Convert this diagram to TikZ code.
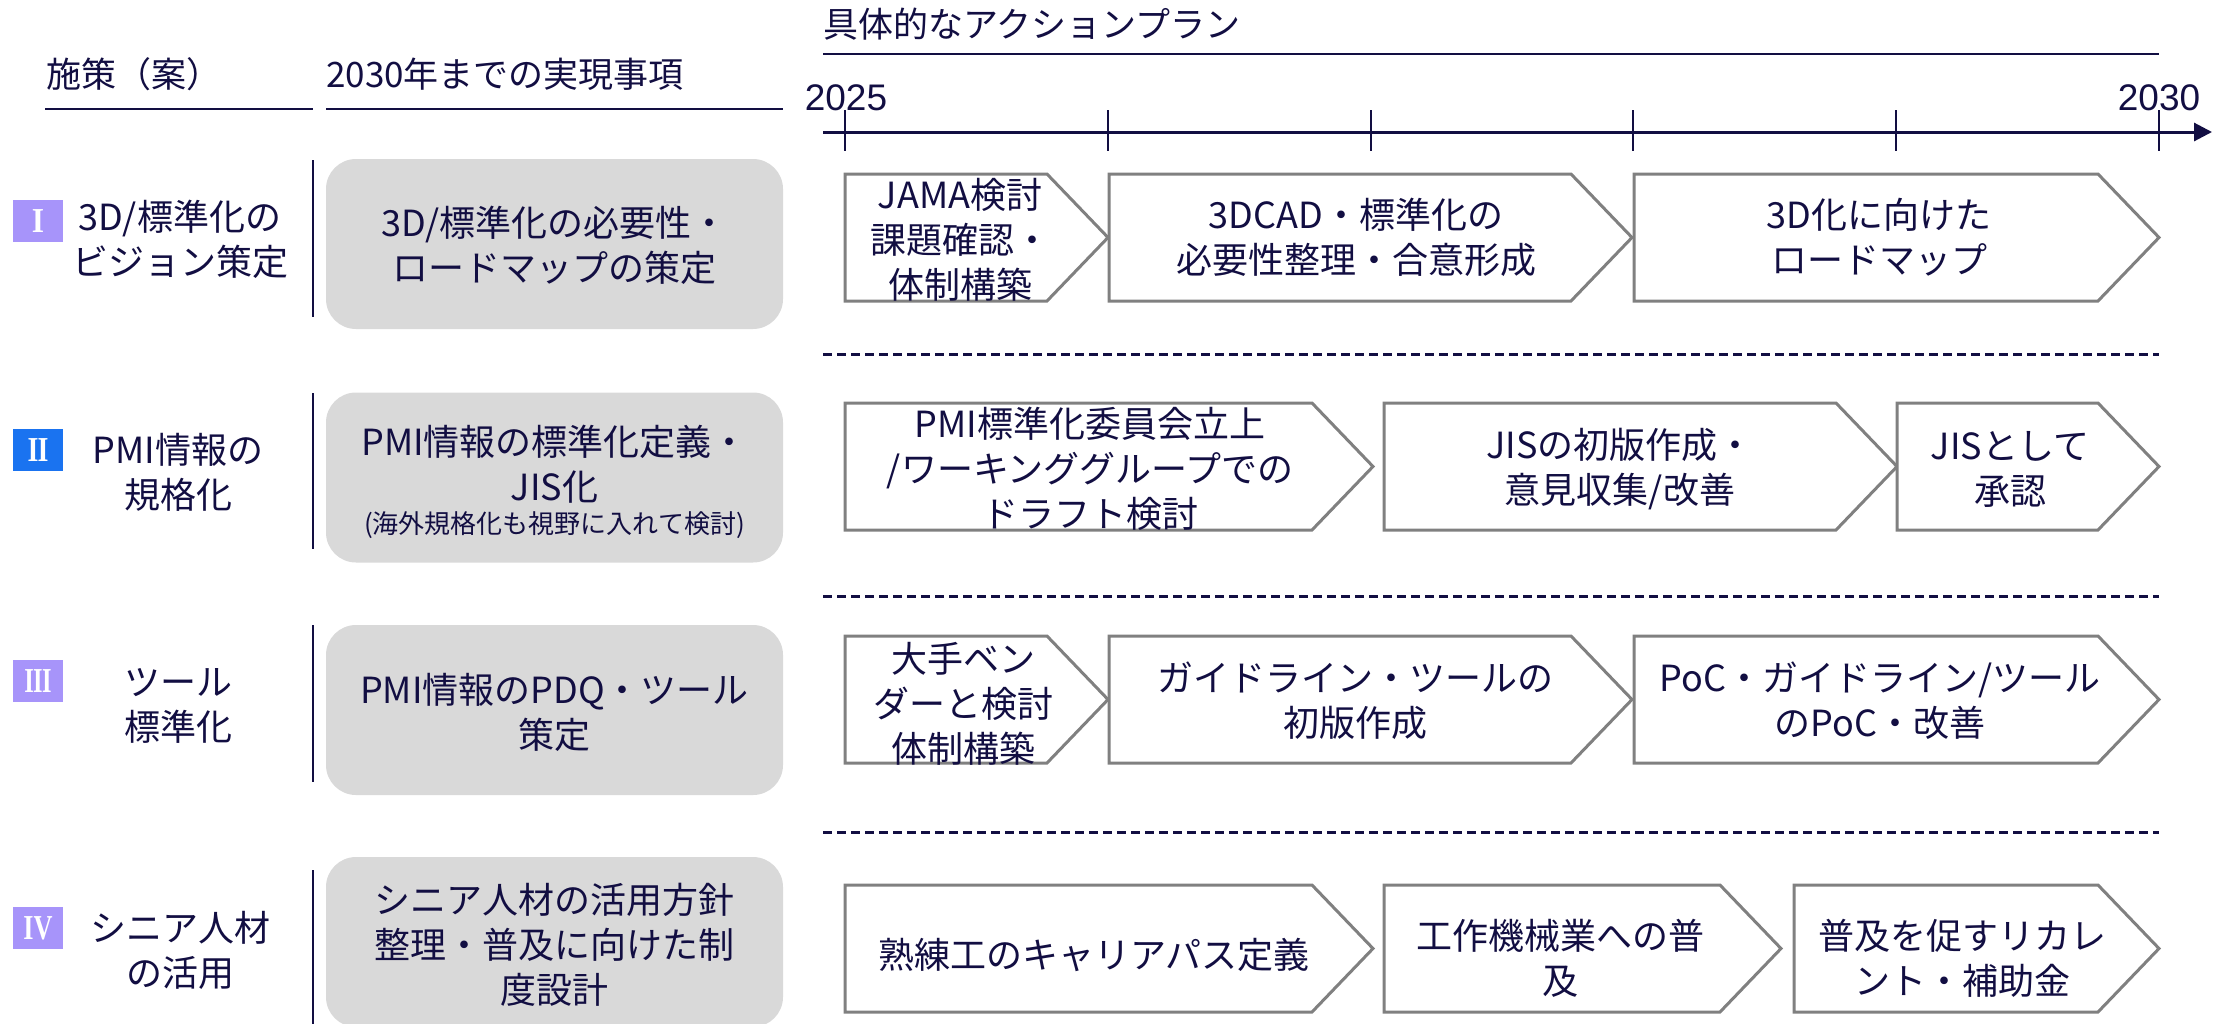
\documentclass[tikz,border=0pt]{standalone}
\usepackage{fontspec}
\setmainfont{Noto Sans CJK JP}
\newfontfamily\latinf{Liberation Sans}
\newfontfamily\romanf{Liberation Serif}
\usetikzlibrary{arrows.meta}
\definecolor{navy}{RGB}{18,14,66}
\definecolor{lav}{RGB}{167,148,250}
\definecolor{bblue}{RGB}{26,115,240}
\definecolor{boxgray}{RGB}{217,217,217}
\definecolor{chevgray}{RGB}{128,128,128}
\tikzset{
  txt/.style={text=navy, font=\fontsize{36}{45}\selectfont, align=center, inner sep=0pt},
  smalltxt/.style={text=navy, font=\fontsize{26}{30}\selectfont, align=center, inner sep=0pt},
  hdr/.style={text=navy, font=\fontsize{35}{45}\selectfont, anchor=west, inner sep=0pt},
  yr/.style={text=navy, font=\latinf\fontsize{37}{40}\selectfont, inner sep=0pt},
  rule/.style={draw=navy, line width=2.5pt},
  sep/.style={draw=navy, line width=2pt},
  dashrule/.style={draw=navy, line width=3pt, dash pattern=on 9pt off 5pt},
  goal/.style={fill=boxgray, rounded corners=30pt, minimum width=457pt, minimum height=170pt, inner sep=0pt},
  badge/.style={text=white, minimum width=50pt, minimum height=42pt, inner sep=0pt, font=\romanf\bfseries\fontsize{35}{35}\selectfont},
  chevron/.style={draw=chevgray, line width=3pt, fill=white, line join=miter},
}
\newcommand\chev[3]{% x1, x2, top
  \draw[chevron] (#1,#3) -- ({#2-61},#3) -- (#2,{#3+63.5}) -- ({#2-61},{#3+127}) -- (#1,{#3+127}) -- cycle;
}
\newcommand\rnum[2]{\scalebox{#1}[1]{#2}}
\begin{document}
\begin{tikzpicture}[x=1pt,y=-1pt]
\useasboundingbox (0,0) rectangle (2221,1023);
% headers
\node[hdr] (h1) at (46,74) {施策（案）};
\node[hdr] (h2) at (326,74) {2030年までの実現事項};
\node[hdr] (h3) at (823,24) {具体的なアクションプラン};
\draw[rule] (45,109) -- (313,109);
\draw[rule] (326,109) -- (783,109);
\draw[rule] (823,54) -- (2159,54);
% timeline
\node[yr] (y1) at (846,98) {2025};
\node[yr] (y2) at (2159,98) {2030};
\coordinate (ax0) at (823,132);
\coordinate (ax1) at (2212,132);
\draw[navy, line width=3pt, -{Triangle[length=18pt,width=18pt]}] (ax0) -- (ax1);
\foreach \k in {0,...,5} \draw[navy, line width=2pt] ({845+262.8*\k},110) -- ({845+262.8*\k},151);
% dashed separators
\draw[dashrule] (823,354) -- (2159,354);
\draw[dashrule] (823,596) -- (2159,596);
\draw[dashrule] (823,832) -- (2159,832);
% Row I
\node[badge, fill=lav] (b1) at (38,221) {\rnum{0.9}{I}};
\node[txt] (p1) at (180,239.5) {3D/標準化の\\ビジョン策定};
\draw[sep] (313,160) -- (313,317);
\node[goal] (g1) at (554.5,244) {};
\node[txt] (t1) at (554.5,245.5) {3D/標準化の必要性・\\ロードマップの策定};
% Row II
\node[badge, fill=bblue] (b2) at (38,450) {\rnum{0.8}{I\kern-1pt I}};
\node[txt] (p2) at (178,472.5) {PMI情報の\\規格化};
\draw[sep] (313,393) -- (313,549);
\node[goal] (g2) at (554.5,477.5) {};
\node[txt] (t2) at (554.5,464.5) {PMI情報の標準化定義・\\JIS化};
\node[smalltxt] (t2s) at (554.5,525) {(海外規格化も視野に入れて検討)};
% Row III
\node[badge, fill=lav] (b3) at (38,681) {\rnum{0.7}{I\kern-1pt I\kern-1pt I}};
\node[txt] (p3) at (178,705.5) {ツール\\標準化};
\draw[sep] (313,625) -- (313,782);
\node[goal] (g3) at (554.5,710) {};
\node[txt] (t3) at (554.5,712.5) {PMI情報のPDQ・ツール\\策定};
% Row IV
\node[badge, fill=lav] (b4) at (38,928) {\rnum{0.75}{IV}};
\node[txt] (p4) at (180,950.5) {シニア人材\\の活用};
\draw[sep] (313,870) -- (313,1030);
\node[goal] (g4) at (554.5,942) {};
\node[txt] (t4) at (554.5,945) {シニア人材の活用方針\\整理・普及に向けた制\\度設計};
% chevrons row I
\chev{845}{1108}{174}
\chev{1109}{1632}{174}
\chev{1634}{2159}{174}
\node[txt] (c11) at (960,240) {JAMA検討\\課題確認・\\体制構築};
\node[txt] (c12) at (1356,237.5) {3DCAD・標準化の\\必要性整理・合意形成};
\node[txt] (c13) at (1879,237.5) {3D化に向けた\\ロードマップ};
% chevrons row II
\chev{845}{1373}{403}
\chev{1384}{1897}{403}
\chev{1897}{2159}{403}
\node[txt] (c21) at (1090,469) {PMI標準化委員会立上\\/ワーキンググループでの\\ドラフト検討};
\node[txt] (c22) at (1620,469.5) {JISの初版作成・\\意見収集/改善};
\node[txt] (c23) at (2010,469.5) {JISとして\\承認};
% chevrons row III
\chev{845}{1108}{636}
\chev{1109}{1632}{636}
\chev{1634}{2159}{636}
\node[txt] (c31) at (963,704) {大手ベン\\ダーと検討\\体制構築};
\node[txt] (c32) at (1355,700.5) {ガイドライン・ツールの\\初版作成};
\node[txt] (c33) at (1880,700.5) {PoC・ガイドライン/ツール\\のPoC・改善};
% chevrons row IV
\chev{845}{1373}{885}
\chev{1384}{1781}{885}
\chev{1794}{2159}{885}
\node[txt] (c41) at (1094,955) {熟練工のキャリアパス定義};
\node[txt] (c42) at (1560,958.5) {工作機械業への普\\及};
\node[txt] (c43) at (1962,958.5) {普及を促すリカレ\\ント・補助金};
\end{tikzpicture}
\end{document}
